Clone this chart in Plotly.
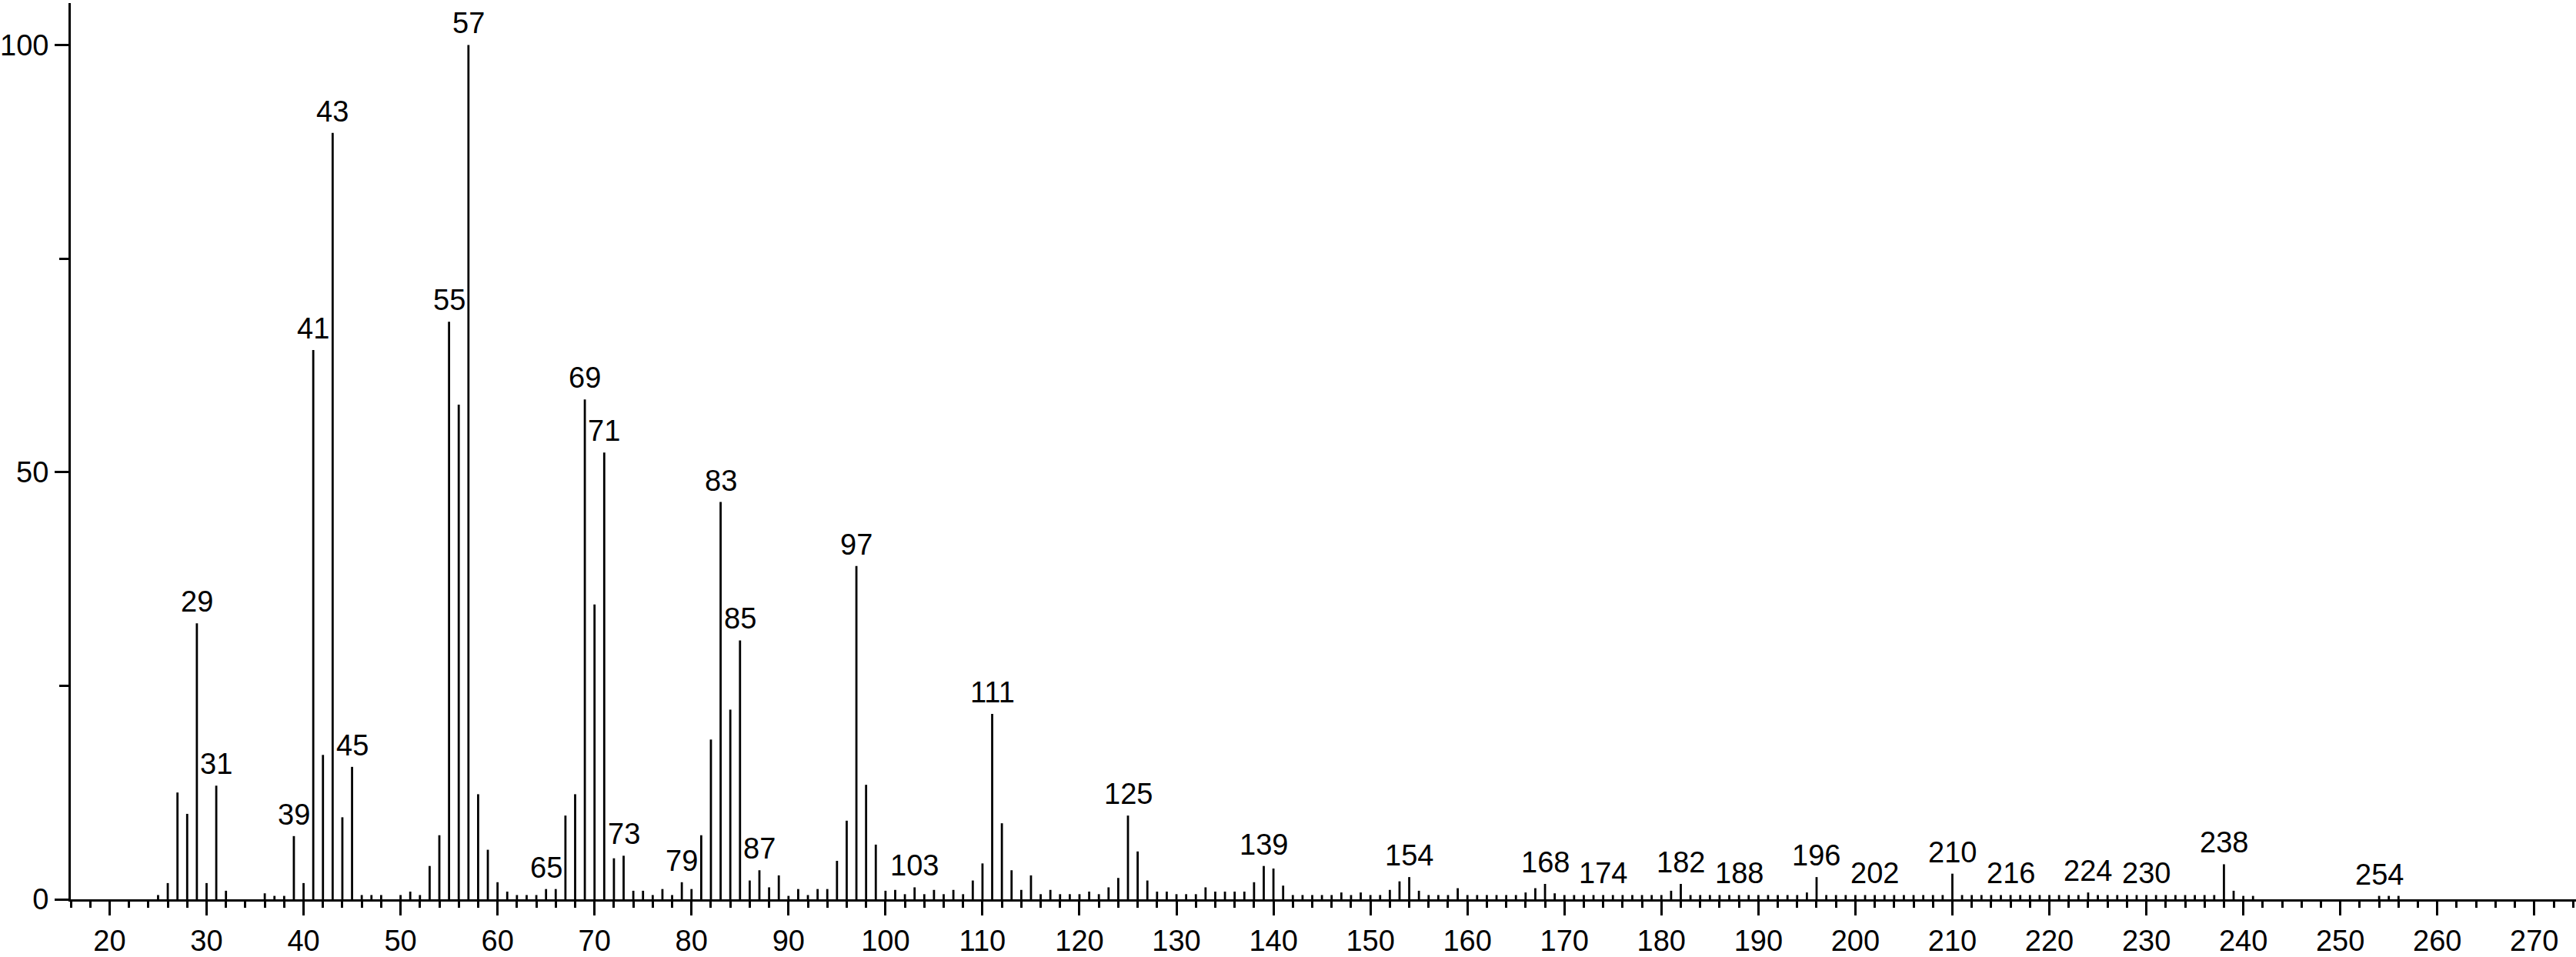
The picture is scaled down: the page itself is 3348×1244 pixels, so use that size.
import plotly.graph_objects as go

# ---- data (m/z, relative intensity) ----
mz = [25, 26, 27, 28, 29, 30, 31, 32, 36, 37, 38, 39, 40, 41, 42, 43, 44, 45, 46, 47, 48,
      50, 51, 52, 53, 54, 55, 56, 57, 58, 59, 60, 61, 62, 63, 64, 65, 66, 67, 68, 69, 70,
      71, 72, 73, 74, 75, 76, 77, 78, 79, 80, 81, 82, 83, 84, 85, 86, 87, 88, 89, 90,
      91, 92, 93, 94, 95, 96, 97, 98, 99, 100, 101, 102, 103, 104, 105, 106, 107, 108,
      109, 110, 111, 112, 113, 114, 115, 116, 117, 118, 119, 120, 121, 122, 123, 124,
      125, 126, 127, 128, 129, 130, 131, 132, 133, 134, 135, 136, 137, 138, 139, 140,
      141, 142, 143, 144, 145, 146, 147, 148, 149, 150, 151, 152, 153, 154, 155, 156,
      157, 158, 159, 160, 161, 162, 163, 164, 165, 166, 167, 168, 169, 170, 171, 172,
      173, 174, 175, 176, 177, 178, 179, 180, 181, 182, 183, 184, 185, 186, 187, 188,
      189, 190, 191, 192, 193, 194, 195, 196, 197, 198, 199, 200, 201, 202, 203, 204,
      205, 206, 207, 208, 209, 210, 211, 212, 213, 214, 215, 216, 217, 218, 219, 220,
      221, 222, 223, 224, 225, 226, 227, 228, 229, 230, 231, 232, 233, 234, 235, 236,
      237, 238, 239, 240, 241, 254, 255, 256]

intensity = [0.5, 1.9, 12.5, 10.0, 32.3, 1.9, 13.3, 1.0, 0.7, 0.4, 0.4, 7.4, 1.9, 64.3, 16.9, 89.7, 9.6, 15.5, 0.5, 0.5, 0.5,
             0.5, 0.9, 0.5, 3.9, 7.5, 67.6, 57.9, 100.0, 12.3, 5.8, 2.0, 0.9, 0.5, 0.5, 0.5, 1.2, 1.2, 9.8, 12.3, 58.5, 34.5,
             52.3, 4.8, 5.1, 1.0, 1.0, 0.5, 1.2, 0.5, 2.0, 1.2, 7.5, 18.7, 46.5, 22.2, 30.3, 2.2, 3.4, 1.4, 2.8, 0.4,
             1.2, 0.5, 1.2, 1.2, 4.5, 9.2, 39.0, 13.4, 6.4, 1.0, 1.1, 0.6, 1.4, 0.6, 1.1, 0.6, 1.1, 0.6,
             2.2, 4.2, 21.7, 8.9, 3.4, 1.1, 2.8, 0.6, 1.1, 0.6, 0.6, 0.6, 0.9, 0.6, 1.4, 2.5,
             9.8, 5.6, 2.2, 0.9, 0.9, 0.6, 0.6, 0.6, 1.4, 0.9, 0.9, 0.9, 0.9, 2.0, 3.9, 3.6,
             1.6, 0.5, 0.5, 0.5, 0.5, 0.5, 0.8, 0.5, 0.8, 0.5, 0.5, 1.1, 2.1, 2.6, 1.0, 0.5,
             0.5, 0.5, 1.3, 0.5, 0.5, 0.5, 0.5, 0.5, 0.5, 0.8, 1.3, 1.8, 0.7, 0.5, 0.5, 0.5,
             0.5, 0.5, 0.5, 0.5, 0.5, 0.5, 0.5, 0.5, 1.0, 1.8, 0.5, 0.5, 0.5, 0.5, 0.5, 0.5,
             0.5, 0.5, 0.5, 0.5, 0.5, 0.5, 0.8, 2.6, 0.5, 0.5, 0.5, 0.5, 0.5, 0.5, 0.5, 0.5,
             0.5, 0.5, 0.5, 0.5, 0.5, 3.0, 0.5, 0.5, 0.5, 0.5, 0.5, 0.5, 0.5, 0.5, 0.5, 0.5,
             0.5, 0.5, 0.5, 0.8, 0.5, 0.5, 0.5, 0.5, 0.5, 0.5, 0.5, 0.5, 0.5, 0.5, 0.5, 0.5,
             0.5, 4.1, 1.0, 0.4, 0.4, 0.4, 0.4, 0.4]

peak_labels = [29, 31, 39, 41, 43, 45, 55, 57, 65, 69, 71, 73, 79, 83, 85, 87, 97, 103,
               111, 125, 139, 154, 168, 174, 182, 188, 196, 202, 210, 216, 224, 230, 238, 254]

x_tick_vals = [20, 30, 40, 50, 60, 70, 80, 90, 100, 110, 120, 130, 140, 150, 160, 170,
               180, 190, 200, 210, 220, 230, 240, 250, 260, 270]
y_tick_vals = [0, 50, 100]
y_tick_text = ["0", "50", "100"]

FONT = "Liberation Sans"
FSIZE = 38

# ---- stick spectrum ----
xs, ys = [], []
for m, v in zip(mz, intensity):
    xs += [m, m, None]
    ys += [0, v, None]

fig = go.Figure()
fig.add_trace(go.Scatter(x=xs, y=ys, mode="lines",
                         line=dict(color="black", width=2.8),
                         hoverinfo="skip", showlegend=False))

lookup = dict(zip(mz, intensity))
for m in peak_labels:
    fig.add_annotation(x=m, y=lookup[m], text=str(m), showarrow=False,
                       yanchor="middle", xanchor="center", yshift=28,
                       font=dict(family=FONT, size=FSIZE, color="black"))

fig.update_layout(
    width=3348, height=1244,
    margin=dict(l=85, r=0, t=4, b=59),
    paper_bgcolor="white", plot_bgcolor="white",
    font=dict(family=FONT, size=FSIZE, color="black"),
    showlegend=False,
)
fig.update_xaxes(
    range=[16, 274.3], showgrid=False, zeroline=False,
    showline=True, linecolor="black", linewidth=3,
    tickmode="array", tickvals=x_tick_vals,
    ticks="outside", ticklen=18, tickwidth=2.5, tickcolor="black",
    tickfont=dict(family=FONT, size=FSIZE, color="black"),
    minor=dict(ticks="outside", dtick=2, tick0=0, ticklen=8, tickwidth=2.5,
               tickcolor="black", showgrid=False),
)
fig.update_yaxes(
    range=[0, 104.9], showgrid=False, zeroline=False,
    showline=True, linecolor="black", linewidth=3,
    tickmode="array", tickvals=y_tick_vals, ticktext=y_tick_text,
    ticks="outside", ticklen=18, tickwidth=2.5, tickcolor="black",
    tickfont=dict(family=FONT, size=FSIZE, color="black"),
    minor=dict(ticks="outside", tickvals=[25, 75], ticklen=12, tickwidth=2.5,
               tickcolor="black", showgrid=False),
)

fig.write_html(
    "out.html",
    config={"displayModeBar": False},
    post_script="document.body.style.margin='0px';document.body.style.overflow='hidden';",
)
